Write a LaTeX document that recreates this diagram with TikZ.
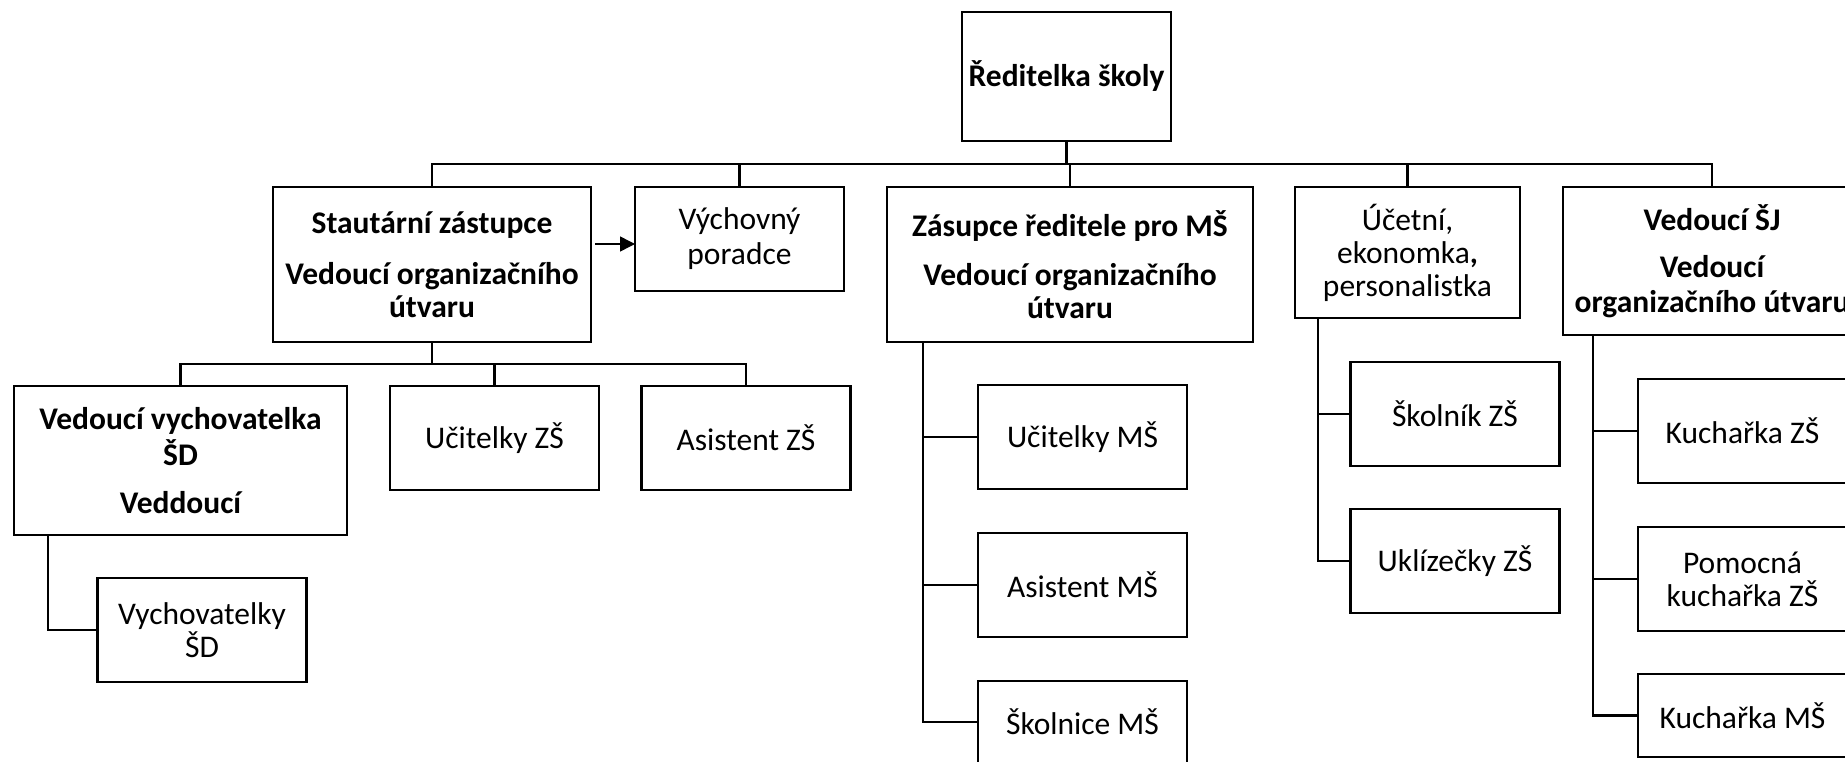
\documentclass[tikz,border=0pt]{standalone}
\usepackage{fontspec}
\setmainfont{Carlito}
\usetikzlibrary{positioning,arrows.meta}

\begin{document}
\begin{tikzpicture}[line width=2.5pt]
\tikzstyle{bossbox} = [rectangle, draw=black, line width=2.5pt, inner sep=0pt, outer sep=0pt, align=center, font=\fontsize{31.5pt}{33pt}\selectfont\bfseries]
\tikzstyle{staffbox} = [rectangle, draw=black, line width=2.5pt, inner sep=0pt, outer sep=0pt, align=center, minimum width=209pt, minimum height=104pt, font=\fontsize{31.5pt}{33pt}\selectfont]

\useasboundingbox (0,0) rectangle (1845pt,-761pt);
\clip (0,0) rectangle (1845pt,-761pt);

\node (dir) [bossbox, minimum width=209pt, minimum height=129pt] at (1066.5pt,-76.5pt) {Ředitelka školy};

% second row
\node (stat) [bossbox, minimum width=318pt, minimum height=155pt, below=46pt of dir, xshift=-634.5pt] {Stautární zástupce\\[18pt]Vedoucí organizačního\\útvaru};
\node (vp) [staffbox, below=46pt of dir, xshift=-327pt] {Výchovný\\[2pt]poradce};
\node (zast) [bossbox, minimum width=366pt, minimum height=155pt, below=46pt of dir, xshift=3.5pt] {Zásupce ředitele pro MŠ\\[16pt]Vedoucí organizačního\\útvaru};
\node (ucet) [staffbox, minimum width=225pt, minimum height=131pt, below=46pt of dir, xshift=341pt] {Účetní,\\ekonomka\textbf{,}\\personalistka};
\node (sj) [bossbox, minimum width=298pt, minimum height=148pt, below=46pt of dir, xshift=645.5pt] {Vedoucí ŠJ\\[14pt]Vedoucí\\[2pt]organizačního útvaru};

% under the statutory deputy
\node (vv) [bossbox, minimum width=333pt, minimum height=149pt, below=44pt of stat, xshift=-251.5pt] {Vedoucí vychovatelka\\[3pt]ŠD\\[15pt]Veddoucí};
\node (uz) [staffbox, below=44pt of stat, xshift=62.5pt] {Učitelky ZŠ};
\node (az) [staffbox, below=44pt of stat, xshift=314pt] {Asistent ZŠ};
\node (vs) [staffbox, below=43pt of vv, xshift=21.5pt] {Vychovatelky\\ŠD};

% under the deputy for MS
\node (um) [staffbox, below=43pt of zast, xshift=12.5pt] {Učitelky MŠ};
\node (am) [staffbox, below=44pt of um] {Asistent MŠ};
\node (skm) [staffbox, minimum height=82pt, below=44pt of am] {Školnice MŠ};

% under the accountant
\node (szs) [staffbox, below=44pt of ucet, xshift=47.5pt] {Školník ZŠ};
\node (ukz) [staffbox, below=43pt of szs] {Uklízečky ZŠ};

% under the kitchen head
\node (kz) [staffbox, below=44pt of sj, xshift=30.5pt] {Kuchařka ZŠ};
\node (pk) [staffbox, below=44pt of kz] {Pomocná\\kuchařka ZŠ};
\node (km) [staffbox, minimum height=83pt, below=43pt of pk] {Kuchařka MŠ};

\coordinate (bus) at ([yshift=23pt]stat.north);
\draw (dir.south) -- (dir.south |- bus);
\draw (stat.north) |- (bus -| sj.north) -- (sj.north);
\foreach \n in {vp,zast,ucet}
  \draw (\n.north) -- (\n.north |- bus);

\coordinate (sbus) at ([yshift=-22pt]stat.south);
\draw (stat.south) -- (sbus);
\draw (vv.north) |- (sbus -| az.north) -- (az.north);
\draw (uz.north) -- (uz.north |- sbus);
\draw ([xshift=34pt]vv.south west) |- (vs.west);

\foreach \n in {um,am,skm}
  \draw ([xshift=36pt]zast.south west) |- (\n.west);
\foreach \n in {szs,ukz}
  \draw ([xshift=23pt]ucet.south west) |- (\n.west);
\foreach \n in {kz,pk,km}
  \draw ([xshift=30pt]sj.south west) |- (\n.west);

\draw[-{Triangle[length=15pt,width=15pt]}, line width=1.5pt] ([xshift=4pt,yshift=20.5pt]stat.east) -- ([yshift=-5pt]vp.west);

\end{tikzpicture}
\end{document}
